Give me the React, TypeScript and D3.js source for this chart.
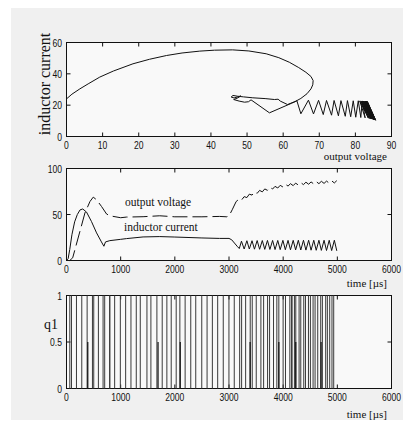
import React from 'react';
import * as d3 from 'd3';

// phase plane: output voltage vs inductor current
const phaseV = [
  0, 1.5, 3.7, 6, 9.2, 13, 18.4, 23, 27.7, 32, 36.9, 41, 46, 50.5, 55.3, 58.8, 61.7, 64.3, 66.3, 67.7,
  68.3, 68.2, 67.7, 66.6, 64.9, 63.3, 61.2, 59.2, 58.6, 57.6, 55, 51.6, 49, 47.4, 46.1, 45.6, 46.4, 47.6,
  48.3, 47.4, 46.3, 47.8, 49.3, 50.4, 51.1, 56.2, 62.3, 63.8,
  64.9, 67.0, 68.4, 69.8, 71.1, 72.0, 73.4, 74.1, 75.3, 76.0, 77.2, 77.8, 78.7, 79.4, 80.1, 80.8, 81.5, 81.9, 82.7,
  81.2, 83.6, 81.5, 83.9, 81.8, 84.2, 82.0, 84.4, 82.2, 84.6, 82.4, 84.8, 82.6, 85.0, 82.7, 85.1,
  82.8, 85.2, 82.9, 85.3, 83.0, 85.4, 83.1, 85.5, 83.2, 85.6, 83.3, 85.6,
];
const phaseI = [
  24, 27, 30.4, 33.6, 37.9, 41.8, 46.4, 49.3, 51.7, 53.3, 54.5, 55.1, 55.3, 54.6, 52.8, 50.3, 47.4, 44, 41, 38.3,
  35.7, 33, 30.4, 27.3, 24.3, 22.3, 20.4, 22.6, 23.8, 23.6, 24.2, 24.7, 25.3, 25.7, 26.2, 25.2, 24.6, 25.4,
  25.9, 24.6, 23.6, 22.6, 21.9, 22.2, 23.4, 15.1, 21.2, 22.8,
  14.5, 23.2, 14.4, 23.1, 14.0, 23.0, 13.6, 23.0, 13.2, 22.9, 12.9, 22.9, 12.6, 22.8, 12.3, 22.8, 12.1, 22.7, 11.9,
  22.7, 11.7, 22.7, 11.5, 22.6, 11.4, 22.6, 11.2, 22.6, 11.1, 22.5, 11.0, 22.5, 10.9, 22.5, 10.8,
  22.5, 10.7, 22.4, 10.6, 22.4, 10.5, 22.4, 10.5, 22.4, 10.4, 22.4, 10.4,
];

// time series [µs]
const timeVolt = [
  0, 60, 114, 156, 248, 340, 433, 494, 555, 647, 740, 800, 1000, 1108, 1414, 1721, 2000, 2500, 2825, 2960, 3000, 3059, 3132,
  3190, 3230, 3280, 3330, 3375, 3425, 3470, 3520, 3565, 3615, 3660, 3710, 3755, 3805, 3850, 3900, 3945, 3995,
  4040, 4090, 4135, 4185, 4230, 4280, 4325, 4375, 4420, 4470, 4515, 4565, 4610, 4660, 4705, 4755, 4800, 4850, 4895, 4945, 4990,
];
const voltage = [
  0, 0, 2.9, 11.9, 31.7, 51.6, 64.1, 68.9, 66, 58.7, 50.5, 48.6, 46.5, 47.2, 47.6, 48.6, 47.5, 47.5, 47.9, 47.5, 48.5, 55.1, 64.1,
  66.9, 65.6, 69.4, 68.4, 72.1, 71.1, 74.5, 73.0, 76.2, 74.6, 77.8, 76.3, 79.5, 77.7, 80.6, 78.8, 81.7, 79.9,
  82.9, 80.9, 83.5, 81.4, 84.1, 82.0, 84.6, 82.5, 85.1, 82.9, 85.4, 83.2, 85.8, 83.5, 86.1, 83.8, 86.3, 84.1, 86.6, 84.3, 86.8,
];
const timeCurr = [
  0, 30, 60, 100, 150, 200, 250, 300, 370, 460, 555, 645, 690, 720, 800, 1000, 1108, 1414, 1721, 2000, 2500, 2825, 3000, 3050, 3100, 3150,
  3190, 3230, 3280, 3330, 3375, 3425, 3470, 3520, 3565, 3615, 3660, 3710, 3755, 3805, 3850, 3900, 3945, 3995,
  4040, 4090, 4135, 4185, 4230, 4280, 4325, 4375, 4420, 4470, 4515, 4565, 4610, 4660, 4705, 4755, 4800, 4850, 4895, 4945, 4990,
];
const current = [
  0, 2, 12, 28, 42, 50, 55, 56, 52.6, 42.5, 30, 20.2, 15.5, 20.2, 21.6, 23, 23.8, 25.6, 26, 25.5, 24.5, 24, 24, 22.5, 19, 15.5,
  13, 21, 12.5, 21.5, 12.5, 21.5, 12.3, 21.7, 12.2, 21.7, 12.1, 21.8, 12, 21.8, 11.9, 21.8, 11.8, 21.9,
  11.7, 21.9, 11.6, 21.9, 11.5, 22, 11.4, 22, 11.3, 22, 11.2, 22, 11.1, 22, 11, 22, 10.9, 22, 10.8, 22, 10.5,
];

// switching signal q1: edge times [µs], and edges that only reach 0.5
const q1Edges = [
  61, 92, 184, 282, 381, 479, 503, 589, 675, 705, 797, 800, 889, 994, 1092, 1190, 1288, 1362, 1485, 1558, 1669, 1767, 1853, 1933, 2025,
  2093, 2190, 2294, 2386, 2497, 2595, 2693, 2791, 2894, 2999, 3097, 3197, 3233, 3307, 3392, 3429, 3503, 3589, 3639, 3712, 3749,
  3822, 3883, 3920, 3999, 4043, 4123, 4153, 4165, 4208, 4233, 4294, 4325, 4380, 4412, 4467, 4503, 4552, 4589, 4638, 4693, 4724,
  4785, 4816, 4859, 4901, 4933,
];
const q1HalfEdges = [393, 1690, 2100, 3390, 3920, 4233, 4700];

const phaseXTicks = [0, 10, 20, 30, 40, 50, 60, 70, 80, 90];
const phaseYTicks = [0, 20, 40, 60];
const timeTicks = [0, 1000, 2000, 3000, 4000, 5000, 6000];
const signalYTicks = [0, 50, 100];
const q1YTicks = [0, 0.5, 1];

const left = 66.5;
const right = 391.5;
const tickFont = 'Liberation Sans, Arial, sans-serif';
const serif = 'Liberation Serif, Times New Roman, serif';
const ink = '#111';

const Frame = ({ x, y, xTicks, yTicks }) => {
  const [y0, y1] = y.range();
  return (
    <g>
      <rect x={left} y={y1} width={right - left} height={y0 - y1} fill="#f9f9f9" stroke={ink} strokeWidth={1} />
      {xTicks.map(t => (
        <g key={`xt-${t}`}>
          <line x1={x(t)} x2={x(t)} y1={y0} y2={y0 - 4} stroke={ink} />
          <line x1={x(t)} x2={x(t)} y1={y1} y2={y1 + 4} stroke={ink} />
          <text transform={`translate(${x(t)},${y0 + 12}) scale(0.78,1)`} textAnchor="middle"
            fontFamily={tickFont} fontSize={11} fill={ink}>{t}</text>
        </g>
      ))}
      {yTicks.map(t => (
        <g key={`yt-${t}`}>
          <line x1={left} x2={left + 4} y1={y(t)} y2={y(t)} stroke={ink} />
          <line x1={right} x2={right - 4} y1={y(t)} y2={y(t)} stroke={ink} />
          <text transform={`translate(62,${y(t) + 4}) scale(0.78,1)`} textAnchor="end"
            fontFamily={tickFont} fontSize={11} fill={ink}>{t}</text>
        </g>
      ))}
    </g>
  );
};

export default function App() {
  const xPhase = d3.scaleLinear().domain([0, 90]).range([left, right]);
  const yPhase = d3.scaleLinear().domain([0, 60]).range([136.5, 42.5]);
  const xTime = d3.scaleLinear().domain([0, 6000]).range([left, right]);
  const ySig = d3.scaleLinear().domain([0, 100]).range([260.5, 168.5]);
  const yQ = d3.scaleLinear().domain([0, 1]).range([388.5, 295.5]);

  const phasePath = d3.line()(phaseV.map((v, i) => [xPhase(v), yPhase(phaseI[i])]));
  const voltPath = d3.line()(timeVolt.map((t, i) => [xTime(t), ySig(voltage[i])]));
  const currPath = d3.line()(timeCurr.map((t, i) => [xTime(t), ySig(current[i])]));

  return (
    <svg width={403} height={430} style={{ position: 'absolute', left: 0, top: 0, background: '#fff' }}>
      <rect x={11} y={8} width={392} height={412} fill="#f0f0f0" />

      {/* phase plane */}
      <Frame x={xPhase} y={yPhase} xTicks={phaseXTicks} yTicks={phaseYTicks} />
      <path d={phasePath} fill="none" stroke={ink} strokeWidth={1} strokeLinejoin="round" />
      <text transform="translate(50,84) rotate(-90)" textAnchor="middle" fontFamily={serif} fontSize={16} fill={ink}>inductor current</text>
      <text x={387} y={159.5} textAnchor="end" fontFamily={serif} fontSize={11} fill={ink}>output voltage</text>

      {/* time signals */}
      <Frame x={xTime} y={ySig} xTicks={timeTicks} yTicks={signalYTicks} />
      <path d={voltPath} fill="none" stroke={ink} strokeWidth={1} strokeDasharray="15,5" />
      <path d={currPath} fill="none" stroke={ink} strokeWidth={1} />
      <text x={125} y={206} fontFamily={serif} fontSize={11.5} fill={ink}>output voltage</text>
      <text x={124} y={231} fontFamily={serif} fontSize={11.5} fill={ink}>inductor current</text>
      <text x={387} y={287} textAnchor="end" fontFamily={serif} fontSize={11} fill={ink}>time [µs]</text>

      {/* switching signal */}
      <Frame x={xTime} y={yQ} xTicks={timeTicks} yTicks={q1YTicks} />
      <line x1={xTime(0)} x2={xTime(5000)} y1={yQ(1)} y2={yQ(1)} stroke={ink} />
      {q1Edges.map((t, i) => (
        <line key={`e-${i}`} x1={xTime(t)} x2={xTime(t)} y1={yQ(0)} y2={yQ(1)} stroke="#3a3a3a" strokeWidth={1} />
      ))}
      {q1HalfEdges.map((t, i) => (
        <line key={`h-${i}`} x1={xTime(t)} x2={xTime(t)} y1={yQ(0)} y2={yQ(0.5)} stroke="#111" strokeWidth={1.2} />
      ))}
      <text x={44} y={329} fontFamily={serif} fontSize={14} fill={ink}>q1</text>
      <text x={387} y={418} textAnchor="end" fontFamily={serif} fontSize={11} fill={ink}>time [µs]</text>
    </svg>
  );
}
